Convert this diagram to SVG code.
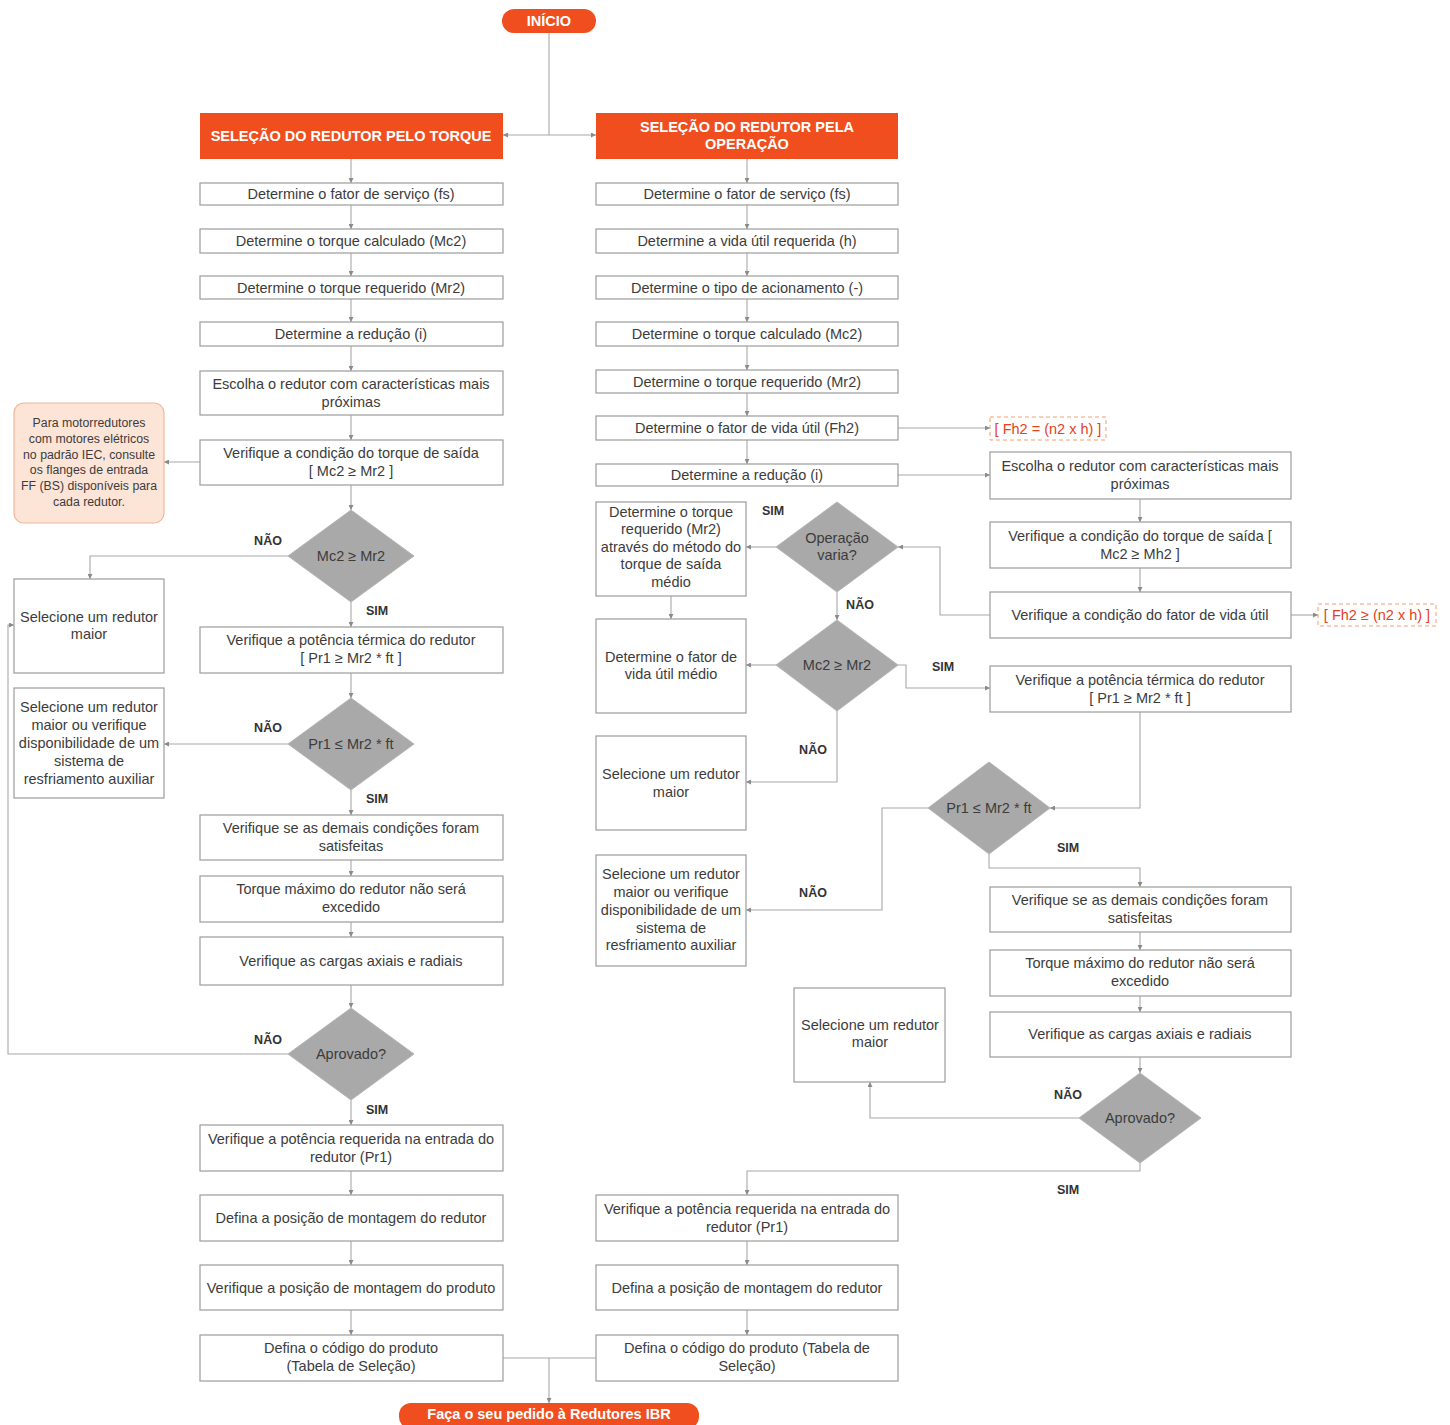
<svg xmlns="http://www.w3.org/2000/svg" width="1450" height="1425" viewBox="0 0 1450 1425">
<defs>
<marker id="ah" viewBox="0 0 6 6" refX="6" refY="3" markerWidth="5" markerHeight="5" orient="auto" markerUnits="userSpaceOnUse">
<path d="M0,0 L6,3 L0,6 z" fill="#8a8a8a"/>
</marker>
<style>
.box{fill:#ffffff;stroke:#9c9c9c;stroke-width:1.2}
.dia{fill:#a9a9a9;stroke:#b5b5b5;stroke-width:1}
.hdr{fill:#f04e1e}
.note{fill:#fce4d6;stroke:#f0b89a;stroke-width:1.2}
.dash{fill:#ffffff;stroke:#f0a070;stroke-width:1;stroke-dasharray:4 3}
.t{font-family:"Liberation Sans",Arial,sans-serif;font-size:14.5px;fill:#3c3c3c;text-anchor:middle}
.ts{font-family:"Liberation Sans",Arial,sans-serif;font-size:12.3px;fill:#3c3c3c;text-anchor:middle}
.th{font-family:"Liberation Sans",Arial,sans-serif;font-size:14.5px;font-weight:bold;fill:#ffffff;text-anchor:middle}
.tr{font-family:"Liberation Sans",Arial,sans-serif;font-size:14.5px;fill:#e8401c;text-anchor:middle}
.lbl{font-family:"Liberation Sans",Arial,sans-serif;font-size:12.5px;font-weight:bold;fill:#333333;text-anchor:middle}
.ln{fill:none;stroke:#a8a8a8;stroke-width:1.1}
.ar{fill:none;stroke:#a8a8a8;stroke-width:1.1;marker-end:url(#ah)}
</style>
</defs>

<g id="connectors">
<path class="ln" d="M549,33 V135"/>
<path class="ar" d="M549,135 H503"/>
<path class="ar" d="M549,135 H596"/>
<path class="ar" d="M351,159 V183"/>
<path class="ar" d="M351,205 V229"/>
<path class="ar" d="M351,253 V276"/>
<path class="ar" d="M351,299 V322"/>
<path class="ar" d="M351,346 V371"/>
<path class="ar" d="M351,415 V440"/>
<path class="ar" d="M351,485 V510"/>
<path class="ar" d="M351,602 V627"/>
<path class="ar" d="M351,673 V698"/>
<path class="ar" d="M351,790 V815"/>
<path class="ar" d="M351,860 V876"/>
<path class="ar" d="M351,922 V937"/>
<path class="ar" d="M351,985 V1008"/>
<path class="ar" d="M351,1100 V1125"/>
<path class="ar" d="M351,1171 V1195"/>
<path class="ar" d="M351,1241 V1265"/>
<path class="ar" d="M351,1310 V1335"/>
<path class="ar" d="M200,462 H164"/>
<path class="ar" d="M288,556 H90 V579"/>
<path class="ar" d="M288,744 H164"/>
<path class="ar" d="M288,1054 H8 V625 H14"/>
<path class="ar" d="M747,159 V183"/>
<path class="ar" d="M747,205 V229"/>
<path class="ar" d="M747,253 V276"/>
<path class="ar" d="M747,299 V322"/>
<path class="ar" d="M747,346 V370"/>
<path class="ar" d="M747,393 V416"/>
<path class="ar" d="M747,440 V464"/>
<path class="ar" d="M898,428 H990"/>
<path class="ar" d="M898,475 H990"/>
<path class="ar" d="M1140,499 V522"/>
<path class="ar" d="M1140,568 V592"/>
<path class="ar" d="M1291,615 H1318"/>
<path class="ar" d="M990,615 H940 V547 H898"/>
<path class="ar" d="M776,547 H746"/>
<path class="ar" d="M837,592 V620"/>
<path class="ar" d="M671,596 V619"/>
<path class="ar" d="M776,665 H746"/>
<path class="ar" d="M898,665 H906 V688 H990"/>
<path class="ar" d="M837,711 V782 H746"/>
<path class="ar" d="M1140,712 V808 H1050"/>
<path class="ar" d="M928,808 H882 V910 H746"/>
<path class="ar" d="M989,854 V868 H1140 V887"/>
<path class="ar" d="M1140,932 V950"/>
<path class="ar" d="M1140,996 V1012"/>
<path class="ar" d="M1140,1057 V1073"/>
<path class="ar" d="M1079,1118 H870 V1082"/>
<path class="ar" d="M1140,1163 V1171 H747 V1195"/>
<path class="ar" d="M747,1241 V1265"/>
<path class="ar" d="M747,1310 V1335"/>
<path class="ln" d="M503,1358 H549"/>
<path class="ln" d="M596,1358 H549"/>
<path class="ar" d="M549,1358 V1403"/>
</g>

<g id="labels">
<text class="lbl" x="268" y="545">NÃO</text>
<text class="lbl" x="377" y="615">SIM</text>
<text class="lbl" x="268" y="732">NÃO</text>
<text class="lbl" x="377" y="803">SIM</text>
<text class="lbl" x="268" y="1044">NÃO</text>
<text class="lbl" x="377" y="1114">SIM</text>
<text class="lbl" x="773" y="515">SIM</text>
<text class="lbl" x="860" y="609">NÃO</text>
<text class="lbl" x="943" y="671">SIM</text>
<text class="lbl" x="813" y="754">NÃO</text>
<text class="lbl" x="813" y="897">NÃO</text>
<text class="lbl" x="1068" y="852">SIM</text>
<text class="lbl" x="1068" y="1099">NÃO</text>
<text class="lbl" x="1068" y="1194">SIM</text>
</g>

<g id="inicio"><rect class="hdr" x="502" y="9" width="94" height="24" rx="12"/><text class="th" x="549" y="26">INÍCIO</text></g>
<g id="hdr-torque"><rect class="hdr" x="200" y="113" width="303" height="46"/><text class="th" x="351" y="141">SELEÇÃO DO REDUTOR PELO TORQUE</text></g>
<g id="hdr-operacao"><rect class="hdr" x="596" y="113" width="302" height="46"/><text class="th" x="747" y="132">SELEÇÃO DO REDUTOR PELA</text><text class="th" x="747" y="149">OPERAÇÃO</text></g>

<g id="l1"><rect class="box" x="200" y="183" width="303" height="22"/><text class="t" x="351" y="199">Determine o fator de serviço (fs)</text></g>
<g id="l2"><rect class="box" x="200" y="229" width="303" height="24"/><text class="t" x="351" y="246">Determine o torque calculado (Mc2)</text></g>
<g id="l3"><rect class="box" x="200" y="276" width="303" height="23"/><text class="t" x="351" y="293">Determine o torque requerido (Mr2)</text></g>
<g id="l4"><rect class="box" x="200" y="322" width="303" height="24"/><text class="t" x="351" y="339">Determine a redução (i)</text></g>
<g id="l5"><rect class="box" x="200" y="371" width="303" height="44"/><text class="t" x="351" y="389">Escolha o redutor com características mais</text><text class="t" x="351" y="407">próximas</text></g>
<g id="l6"><rect class="box" x="200" y="440" width="303" height="45"/><text class="t" x="351" y="458">Verifique a condição do torque de saída</text><text class="t" x="351" y="476">[ Mc2 ≥ Mr2 ]</text></g>
<g id="ld1"><polygon class="dia" points="351,510 414,556 351,602 288,556"/><text class="t" x="351" y="561">Mc2 ≥ Mr2</text></g>
<g id="l7"><rect class="box" x="200" y="627" width="303" height="46"/><text class="t" x="351" y="645">Verifique a potência térmica do redutor</text><text class="t" x="351" y="663">[ Pr1 ≥ Mr2 * ft ]</text></g>
<g id="ld2"><polygon class="dia" points="351,698 414,744 351,790 288,744"/><text class="t" x="351" y="749">Pr1 ≤ Mr2 * ft</text></g>
<g id="l8"><rect class="box" x="200" y="815" width="303" height="45"/><text class="t" x="351" y="833">Verifique se as demais condições foram</text><text class="t" x="351" y="851">satisfeitas</text></g>
<g id="l9"><rect class="box" x="200" y="876" width="303" height="46"/><text class="t" x="351" y="894">Torque máximo do redutor não será</text><text class="t" x="351" y="912">excedido</text></g>
<g id="l10"><rect class="box" x="200" y="937" width="303" height="48"/><text class="t" x="351" y="966">Verifique as cargas axiais e radiais</text></g>
<g id="ld3"><polygon class="dia" points="351,1008 414,1054 351,1100 288,1054"/><text class="t" x="351" y="1059">Aprovado?</text></g>
<g id="l11"><rect class="box" x="200" y="1125" width="303" height="46"/><text class="t" x="351" y="1144">Verifique a potência requerida na entrada do</text><text class="t" x="351" y="1162">redutor (Pr1)</text></g>
<g id="l12"><rect class="box" x="200" y="1195" width="303" height="46"/><text class="t" x="351" y="1223">Defina a posição de montagem do redutor</text></g>
<g id="l13"><rect class="box" x="200" y="1265" width="303" height="45"/><text class="t" x="351" y="1293">Verifique a posição de montagem do produto</text></g>
<g id="l14"><rect class="box" x="200" y="1335" width="303" height="46"/><text class="t" x="351" y="1353">Defina o código do produto</text><text class="t" x="351" y="1371">(Tabela de Seleção)</text></g>

<g id="note"><rect class="note" x="14" y="403" width="150" height="120" rx="10"/>
<text class="ts" x="89" y="427">Para motorredutores</text>
<text class="ts" x="89" y="443">com motores elétricos</text>
<text class="ts" x="89" y="459">no padrão IEC, consulte</text>
<text class="ts" x="89" y="474">os flanges de entrada</text>
<text class="ts" x="89" y="490">FF (BS) disponíveis para</text>
<text class="ts" x="89" y="506">cada redutor.</text></g>
<g id="ls1"><rect class="box" x="14" y="579" width="150" height="94"/><text class="t" x="89" y="622">Selecione um redutor</text><text class="t" x="89" y="639">maior</text></g>
<g id="ls2"><rect class="box" x="14" y="688" width="150" height="110"/>
<text class="t" x="89" y="712">Selecione um redutor</text>
<text class="t" x="89" y="730">maior ou verifique</text>
<text class="t" x="89" y="748">disponibilidade de um</text>
<text class="t" x="89" y="766">sistema de</text>
<text class="t" x="89" y="784">resfriamento auxiliar</text></g>

<g id="r1"><rect class="box" x="596" y="183" width="302" height="22"/><text class="t" x="747" y="199">Determine o fator de serviço (fs)</text></g>
<g id="r2"><rect class="box" x="596" y="229" width="302" height="24"/><text class="t" x="747" y="246">Determine a vida útil requerida (h)</text></g>
<g id="r3"><rect class="box" x="596" y="276" width="302" height="23"/><text class="t" x="747" y="293">Determine o tipo de acionamento (-)</text></g>
<g id="r4"><rect class="box" x="596" y="322" width="302" height="24"/><text class="t" x="747" y="339">Determine o torque calculado (Mc2)</text></g>
<g id="r5"><rect class="box" x="596" y="370" width="302" height="23"/><text class="t" x="747" y="387">Determine o torque requerido (Mr2)</text></g>
<g id="r6"><rect class="box" x="596" y="416" width="302" height="24"/><text class="t" x="747" y="433">Determine o fator de vida útil (Fh2)</text></g>
<g id="r7"><rect class="box" x="596" y="464" width="302" height="22"/><text class="t" x="747" y="480">Determine a redução (i)</text></g>
<g id="fh1"><rect class="dash" x="990" y="417" width="116" height="23"/><text class="tr" x="1048" y="434">[ Fh2 = (n2 x h) ]</text></g>

<g id="rd1"><polygon class="dia" points="837,502 898,547 837,592 776,547"/><text class="t" x="837" y="543">Operação</text><text class="t" x="837" y="560">varia?</text></g>
<g id="rm1"><rect class="box" x="596" y="502" width="150" height="94"/>
<text class="t" x="671" y="517">Determine o torque</text>
<text class="t" x="671" y="534">requerido (Mr2)</text>
<text class="t" x="671" y="552">através do método do</text>
<text class="t" x="671" y="569">torque de saída</text>
<text class="t" x="671" y="587">médio</text></g>
<g id="rd2"><polygon class="dia" points="837,620 898,665 837,711 776,665"/><text class="t" x="837" y="670">Mc2 ≥ Mr2</text></g>
<g id="rm2"><rect class="box" x="596" y="619" width="150" height="94"/><text class="t" x="671" y="662">Determine o fator de</text><text class="t" x="671" y="679">vida útil médio</text></g>
<g id="rm3"><rect class="box" x="596" y="736" width="150" height="94"/><text class="t" x="671" y="779">Selecione um redutor</text><text class="t" x="671" y="797">maior</text></g>
<g id="rm4"><rect class="box" x="596" y="855" width="150" height="111"/>
<text class="t" x="671" y="879">Selecione um redutor</text>
<text class="t" x="671" y="897">maior ou verifique</text>
<text class="t" x="671" y="915">disponibilidade de um</text>
<text class="t" x="671" y="933">sistema de</text>
<text class="t" x="671" y="950">resfriamento auxiliar</text></g>

<g id="f1"><rect class="box" x="990" y="452" width="301" height="47"/><text class="t" x="1140" y="471">Escolha o redutor com características mais</text><text class="t" x="1140" y="489">próximas</text></g>
<g id="f2"><rect class="box" x="990" y="522" width="301" height="46"/><text class="t" x="1140" y="541">Verifique a condição do torque de saída [</text><text class="t" x="1140" y="559">Mc2 ≥ Mh2 ]</text></g>
<g id="f3"><rect class="box" x="990" y="592" width="301" height="46"/><text class="t" x="1140" y="620">Verifique a condição do fator de vida útil</text></g>
<g id="fh2"><rect class="dash" x="1318" y="604" width="118" height="22"/><text class="tr" x="1377" y="620">[ Fh2 ≥ (n2 x h) ]</text></g>
<g id="f4"><rect class="box" x="990" y="666" width="301" height="46"/><text class="t" x="1140" y="685">Verifique a potência térmica do redutor</text><text class="t" x="1140" y="703">[ Pr1 ≥ Mr2 * ft ]</text></g>
<g id="rd3"><polygon class="dia" points="989,762 1050,808 989,854 928,808"/><text class="t" x="989" y="813">Pr1 ≤ Mr2 * ft</text></g>
<g id="f5"><rect class="box" x="990" y="887" width="301" height="45"/><text class="t" x="1140" y="905">Verifique se as demais condições foram</text><text class="t" x="1140" y="923">satisfeitas</text></g>
<g id="f6"><rect class="box" x="990" y="950" width="301" height="46"/><text class="t" x="1140" y="968">Torque máximo do redutor não será</text><text class="t" x="1140" y="986">excedido</text></g>
<g id="f7"><rect class="box" x="990" y="1012" width="301" height="45"/><text class="t" x="1140" y="1039">Verifique as cargas axiais e radiais</text></g>
<g id="rd4"><polygon class="dia" points="1140,1073 1201,1118 1140,1163 1079,1118"/><text class="t" x="1140" y="1123">Aprovado?</text></g>
<g id="rs1"><rect class="box" x="794" y="988" width="151" height="94"/><text class="t" x="870" y="1030">Selecione um redutor</text><text class="t" x="870" y="1047">maior</text></g>

<g id="r8"><rect class="box" x="596" y="1195" width="302" height="46"/><text class="t" x="747" y="1214">Verifique a potência requerida na entrada do</text><text class="t" x="747" y="1232">redutor (Pr1)</text></g>
<g id="r9"><rect class="box" x="596" y="1265" width="302" height="45"/><text class="t" x="747" y="1293">Defina a posição de montagem do redutor</text></g>
<g id="r10"><rect class="box" x="596" y="1335" width="302" height="46"/><text class="t" x="747" y="1353">Defina o código do produto (Tabela de</text><text class="t" x="747" y="1371">Seleção)</text></g>

<g id="fim"><rect class="hdr" x="399" y="1403" width="300" height="26" rx="12"/><text class="th" x="549" y="1419">Faça o seu pedido à Redutores IBR</text></g>
</svg>
